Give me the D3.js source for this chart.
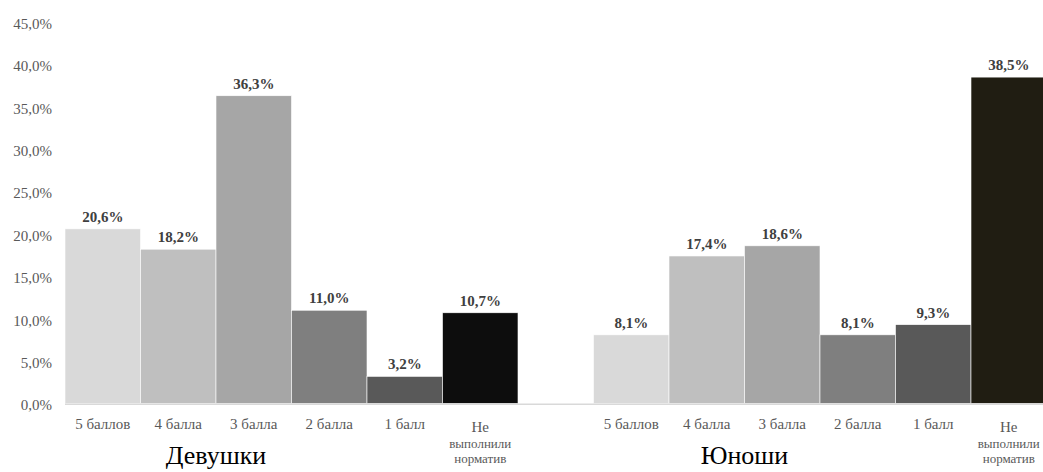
<!DOCTYPE html>
<html>
<head>
<meta charset="utf-8">
<script src="https://cdn.jsdelivr.net/npm/d3@7"></script>
<style>
  html, body { margin: 0; padding: 0; background: #fff; }
  svg { display: block; }
</style>
</head>
<body>
<svg id="chart" width="1043" height="472"></svg>
<script>
const categories = ["5 баллов", "4 балла", "3 балла", "2 балла", "1 балл", "Не выполнили норматив"];
const groups = ["Девушки", "Юноши"];
const girlsValues = [20.6, 18.2, 36.3, 11.0, 3.2, 10.7];
const boysValues = [8.1, 17.4, 18.6, 8.1, 9.3, 38.5];
const yTicks = [0, 5, 10, 15, 20, 25, 30, 35, 40, 45];
const girlsColors = ["#d9d9d9", "#bfbfbf", "#a6a6a6", "#7f7f7f", "#595959", "#0d0d0d"];
const boysColors = ["#d9d9d9", "#bfbfbf", "#a6a6a6", "#7f7f7f", "#595959", "#201d12"];

const svg = d3.select("#chart");
const chartW = 1043;
const leftX = 65, slotW = 75.5;
const nSlots = categories.length * 2 + 1;

const keys = [];
categories.forEach((c, i) => keys.push("g0-" + i));
keys.push("spacer");
categories.forEach((c, i) => keys.push("g1-" + i));

const x = d3.scaleBand().domain(keys).range([leftX, leftX + nSlots * slotW]).padding(0);
const y = d3.scaleLinear().domain([0, 45]).range([403.5, 22]);

const fmt = v => d3.format(".1f")(v).replace(".", ",") + "%";

const data = [];
[girlsValues, boysValues].forEach((vals, g) => {
  vals.forEach((v, i) => data.push({ key: "g" + g + "-" + i, value: v, cat: categories[i],
    color: (g === 0 ? girlsColors : boysColors)[i], group: g, idx: i }));
});

function serif(sel, size, weight) {
  sel.attr("font-family", "Liberation Serif").style("font-family", "Liberation Serif")
     .style("font-size", size + "px");
  if (weight) sel.style("font-weight", weight);
  return sel;
}

// bars
svg.append("g").selectAll("rect").data(data).join("rect")
  .attr("x", d => x(d.key))
  .attr("y", d => y(d.value))
  .attr("width", x.bandwidth())
  .attr("height", d => y(0) - y(d.value))
  .attr("fill", d => d.color)
  .attr("stroke", "#ffffff").attr("stroke-width", 0.6);

// baseline
svg.append("line").attr("x1", leftX).attr("x2", chartW).attr("y1", y(0) + 0.8).attr("y2", y(0) + 0.8)
  .attr("stroke", "#d9d9d9").attr("stroke-width", 1.5);

// y axis
const yAxis = d3.axisLeft(y).tickValues(yTicks).tickSize(0).tickPadding(0).tickFormat(fmt);
const yg = svg.append("g").attr("transform", "translate(52,1.5)").call(yAxis);
yg.attr("font-family", "Liberation Serif").attr("font-size", 15);
yg.select(".domain").remove();
serif(yg.selectAll("text"), 15).attr("fill", "#595959");

// value labels
const vl = svg.append("g").selectAll("text").data(data).join("text")
  .attr("x", d => x(d.key) + x.bandwidth() / 2)
  .attr("y", d => y(d.value) - 7)
  .attr("text-anchor", "middle")
  .attr("fill", "#404040")
  .text(d => fmt(d.value));
serif(vl, 15, "bold");

// category labels
const catG = svg.append("g");
data.forEach(d => {
  const cx = x(d.key) + x.bandwidth() / 2;
  if (d.idx === categories.length - 1) {
    const words = d.cat.split(" ");
    words.forEach((w, j) => {
      const t = catG.append("text").attr("x", cx).attr("y", 432 + j * 15.5)
        .attr("text-anchor", "middle").attr("fill", "#595959").text(w);
      serif(t, j === 0 ? 15 : 13);
    });
  } else {
    const t = catG.append("text").attr("x", cx).attr("y", 429).attr("text-anchor", "middle")
      .attr("fill", "#595959").text(d.cat);
    serif(t, 15);
  }
});

// group labels
groups.forEach((g, gi) => {
  const k = "g" + gi + "-2";
  const t = svg.append("text").attr("x", x(k)).attr("y", 464).attr("text-anchor", "middle")
    .attr("fill", "#000").text(g);
  serif(t, 26);
});
</script>
</body>
</html>
